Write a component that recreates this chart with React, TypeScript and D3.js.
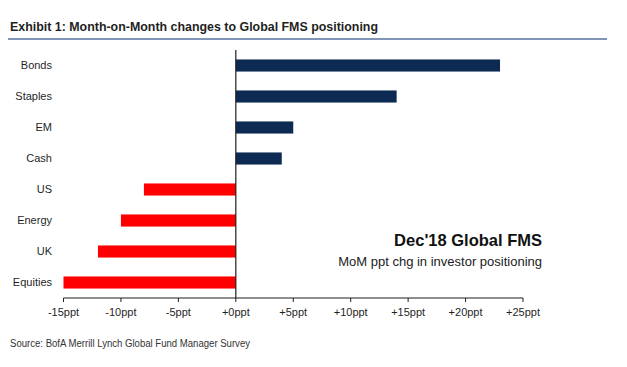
import * as d3 from "d3";

/* ------------------------------------------------------------------ */
/*  Data                                                               */
/* ------------------------------------------------------------------ */

const CATEGORIES = ["Bonds", "Staples", "EM", "Cash", "US", "Energy", "UK", "Equities"];
const VALUES = [23, 14, 5, 4, -8, -10, -12, -15];
const X_TICKS = [-15, -10, -5, 0, 5, 10, 15, 20, 25];

const TITLE = "Exhibit 1: Month-on-Month changes to Global FMS positioning";
const NOTE_TITLE = "Dec'18 Global FMS";
const NOTE_SUB = "MoM ppt chg in investor positioning";
const SOURCE = "Source: BofA Merrill Lynch Global Fund Manager Survey";

/* ------------------------------------------------------------------ */
/*  Theme                                                              */
/* ------------------------------------------------------------------ */

const W = 627;
const H = 367;
const NAVY = "#0c2a52";
const RED = "#ff0000";
const INK = "#1f1f1f";
const RULE = "#8196b6";
const FONT = "Arial, 'Liberation Sans', sans-serif";

export default function App() {
  const x = d3.scaleLinear().domain([-15, 25]).range([63.5, 523]);
  const y = d3.scaleBand<string>().domain(CATEGORIES).range([50, 298]).paddingInner(0.61).paddingOuter(0.305);

  const fmt = (v: number) => (v < 0 ? `${v}ppt` : `+${v}ppt`);

  return (
    <div style={{ position: "fixed", left: 0, top: 0, width: W, height: H, background: "#fff" }}>
      <svg width={W} height={H} style={{ display: "block", fontFamily: FONT }}>
        {/* Title */}
        <text x={10} y={31} fontSize={13} fontWeight="bold" fill={INK} textLength={368} lengthAdjust="spacingAndGlyphs">
          {TITLE}
        </text>
        <line x1={8} x2={607} y1={39} y2={39} stroke={RULE} strokeWidth={2} />

        {/* Bars */}
        {CATEGORIES.map((c, i) => {
          const v = VALUES[i];
          return (
            <rect
              key={c}
              x={x(Math.min(0, v))}
              y={y(c)}
              width={Math.abs(x(v) - x(0))}
              height={y.bandwidth()}
              fill={v >= 0 ? NAVY : RED}
            />
          );
        })}

        {/* Category labels */}
        {CATEGORIES.map((c) => (
          <text
            key={c}
            x={52}
            y={(y(c) ?? 0) + y.bandwidth() / 2}
            dy="0.35em"
            textAnchor="end"
            fontSize={11}
            fill={INK}
          >
            {c}
          </text>
        ))}

        {/* Zero line */}
        <line x1={x(0)} x2={x(0)} y1={50} y2={298} stroke={INK} strokeWidth={1.2} />

        {/* X axis */}
        <line x1={x(-15)} x2={x(25)} y1={298} y2={298} stroke={INK} strokeWidth={1.2} />
        {X_TICKS.map((t) => (
          <g key={t} transform={`translate(${x(t)},298)`}>
            <line y1={0} y2={4} stroke={INK} strokeWidth={1} />
            <text y={18} textAnchor="middle" fontSize={11} fill={INK}>
              {fmt(t)}
            </text>
          </g>
        ))}

        {/* Annotation */}
        <text x={542} y={246} textAnchor="end" fontSize={16.5} fontWeight="bold" fill="#111">
          {NOTE_TITLE}
        </text>
        <text x={542} y={266} textAnchor="end" fontSize={13} fill="#222">
          {NOTE_SUB}
        </text>

        {/* Source */}
        <text x={10} y={347} fontSize={10} fill="#333" textLength={240} lengthAdjust="spacingAndGlyphs">
          {SOURCE}
        </text>
      </svg>
    </div>
  );
}
